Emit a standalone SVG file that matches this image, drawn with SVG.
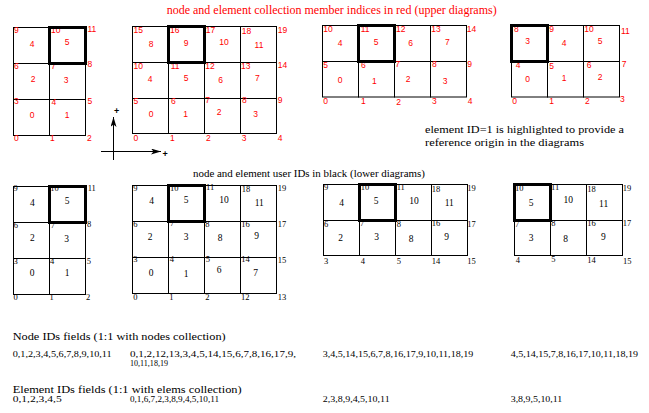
<svg xmlns="http://www.w3.org/2000/svg" width="649" height="413" viewBox="0 0 649 413">
<style>
.c{fill:none;stroke:#000;stroke-width:1}
.k{fill:none;stroke:#000;stroke-width:3}
.rn{font-family:"Liberation Sans",Arial,sans-serif;font-size:8.5px;fill:#f00}
.re{font-family:"Liberation Sans",Arial,sans-serif;font-size:8.5px;fill:#f00;text-anchor:middle}
.bn{font-family:"Liberation Serif","Times New Roman",serif;font-size:8.5px;fill:#000}
.be{font-family:"Liberation Serif","Times New Roman",serif;font-size:9.5px;fill:#000;text-anchor:middle}
.t{font-family:"Liberation Serif","Times New Roman",serif;font-size:11px;fill:#000}
.f{font-family:"Liberation Serif","Times New Roman",serif;font-size:8.5px;fill:#000}
.ax{stroke:#000;stroke-width:1}
.pl{font-family:"Liberation Sans",Arial,sans-serif;font-size:9px;font-weight:bold;fill:#000}
</style>
<defs>
<marker id="ah" viewBox="0 0 10 6" refX="10" refY="3" markerWidth="10" markerHeight="6" orient="auto" markerUnits="userSpaceOnUse"><path d="M0,0 L10,3 L0,6 L2.5,3 z" fill="#000"/></marker>
</defs>
<rect width="649" height="413" fill="#fff"/>

<text class="t" x="166.7" y="13.5" style="fill:#f00;font-size:12px" textLength="330" lengthAdjust="spacingAndGlyphs">node and element collection member indices in red (upper diagrams)</text>

<g id="upper-1">
<rect class="c" x="13.5" y="27.5" width="36" height="36"/><rect class="c" x="49.5" y="27.5" width="36" height="36"/>
<rect class="c" x="13.5" y="63.5" width="36" height="36"/><rect class="c" x="49.5" y="63.5" width="36" height="36"/>
<rect class="c" x="13.5" y="99.5" width="36" height="36"/><rect class="c" x="49.5" y="99.5" width="36" height="36"/>
<text class="rn" x="14" y="33">9</text><text class="rn" x="51" y="33">10</text><text class="rn" x="87.5" y="32">11</text>
<text class="rn" x="14" y="69">6</text><text class="rn" x="51" y="69">7</text><text class="rn" x="87.5" y="67">8</text>
<text class="rn" x="14" y="104">3</text><text class="rn" x="51.5" y="105">4</text><text class="rn" x="87.5" y="103.5">5</text>
<text class="rn" x="14" y="141">0</text><text class="rn" x="50" y="141">1</text><text class="rn" x="87" y="141">2</text>
<text class="re" x="32" y="46.5">4</text><text class="re" x="67" y="45">5</text>
<text class="re" x="33" y="81.5">2</text><text class="re" x="66" y="82.5">3</text>
<text class="re" x="32" y="118">0</text><text class="re" x="67" y="118">1</text>
<rect class="k" x="49.5" y="27.5" width="36" height="36"/>
</g>

<g id="upper-2">
<rect class="c" x="132.5" y="26.5" width="36" height="36"/><rect class="c" x="168.5" y="26.5" width="36" height="36"/><rect class="c" x="204.5" y="26.5" width="36" height="36"/><rect class="c" x="240.5" y="26.5" width="36" height="36"/>
<rect class="c" x="132.5" y="62.5" width="36" height="36"/><rect class="c" x="168.5" y="62.5" width="36" height="36"/><rect class="c" x="204.5" y="62.5" width="36" height="36"/><rect class="c" x="240.5" y="62.5" width="36" height="36"/>
<rect class="c" x="132.5" y="98.5" width="36" height="35"/><rect class="c" x="168.5" y="98.5" width="36" height="35"/><rect class="c" x="204.5" y="98.5" width="36" height="35"/><rect class="c" x="240.5" y="98.5" width="36" height="35"/>
<text class="rn" x="133.5" y="33">15</text><text class="rn" x="170" y="33">16</text><text class="rn" x="205.7" y="33">17</text><text class="rn" x="241.7" y="33.5">18</text><text class="rn" x="277.7" y="32.5">19</text>
<text class="rn" x="133.5" y="68.5">10</text><text class="rn" x="170.7" y="68.5">11</text><text class="rn" x="205.3" y="68.5">12</text><text class="rn" x="241" y="68.5">13</text><text class="rn" x="277.7" y="68">14</text>
<text class="rn" x="133.5" y="104">5</text><text class="rn" x="171" y="104">6</text><text class="rn" x="205.3" y="102.5">7</text><text class="rn" x="242" y="103">8</text><text class="rn" x="277.7" y="103">9</text>
<text class="rn" x="133.5" y="141">0</text><text class="rn" x="170" y="141">1</text><text class="rn" x="206" y="141">2</text><text class="rn" x="241.7" y="141">3</text><text class="rn" x="277.7" y="141">4</text>
<text class="re" x="151" y="47">8</text><text class="re" x="186" y="45.5">9</text><text class="re" x="224" y="45">10</text><text class="re" x="259" y="47.5">11</text>
<text class="re" x="150" y="81.5">4</text><text class="re" x="186" y="81">5</text><text class="re" x="220.7" y="82.5">6</text><text class="re" x="257.3" y="81">7</text>
<text class="re" x="151" y="117.3">0</text><text class="re" x="185.7" y="117.3">1</text><text class="re" x="219" y="115">2</text><text class="re" x="255.7" y="117.3">3</text>
<rect class="k" x="168.5" y="26.5" width="36" height="36"/>
</g>

<g id="upper-3">
<rect class="c" x="322.5" y="25.5" width="36" height="36"/><rect class="c" x="358.5" y="25.5" width="36" height="36"/><rect class="c" x="394.5" y="25.5" width="36" height="36"/><rect class="c" x="430.5" y="25.5" width="36" height="36"/>
<rect class="c" x="322.5" y="61.5" width="36" height="35.5"/><rect class="c" x="358.5" y="61.5" width="36" height="35.5"/><rect class="c" x="394.5" y="61.5" width="36" height="35.5"/><rect class="c" x="430.5" y="61.5" width="36" height="35.5"/>
<text class="rn" x="323.3" y="31.7">10</text><text class="rn" x="360.7" y="31.7">11</text><text class="rn" x="396" y="31.7">12</text><text class="rn" x="431.3" y="31.7">13</text><text class="rn" x="466.7" y="31.7">14</text>
<text class="rn" x="323.3" y="67.7">5</text><text class="rn" x="361" y="68">6</text><text class="rn" x="395.3" y="66.5">7</text><text class="rn" x="432" y="66.5">8</text><text class="rn" x="467.3" y="66.5">9</text>
<text class="rn" x="323.3" y="104">0</text><text class="rn" x="361" y="104">1</text><text class="rn" x="396.3" y="104.5">2</text><text class="rn" x="432" y="103.5">3</text><text class="rn" x="467.7" y="103.5">4</text>
<text class="re" x="340" y="45.7">4</text><text class="re" x="376" y="44.7">5</text><text class="re" x="410.7" y="46">6</text><text class="re" x="447.3" y="44.7">7</text>
<text class="re" x="340" y="83.3">0</text><text class="re" x="374.3" y="84.3">1</text><text class="re" x="408" y="82">2</text><text class="re" x="445" y="83.5">3</text>
<rect class="k" x="358.5" y="25.5" width="36" height="36"/>
</g>

<g id="upper-4">
<rect class="c" x="511.5" y="25.5" width="36" height="36"/><rect class="c" x="547.5" y="25.5" width="36" height="36"/><rect class="c" x="583.5" y="25.5" width="36" height="36"/>
<rect class="c" x="511.5" y="61.5" width="36" height="35.5"/><rect class="c" x="547.5" y="61.5" width="36" height="35.5"/><rect class="c" x="583.5" y="61.5" width="36" height="35.5"/>
<text class="rn" x="514" y="32">8</text><text class="rn" x="549.3" y="32.3">9</text><text class="rn" x="584.3" y="32.3">10</text><text class="rn" x="621" y="34">11</text>
<text class="rn" x="515.7" y="67.7">4</text><text class="rn" x="549.3" y="68.7">5</text><text class="rn" x="586.7" y="67.5">6</text><text class="rn" x="621.7" y="67">7</text>
<text class="rn" x="512.3" y="104">0</text><text class="rn" x="549.3" y="104">1</text><text class="rn" x="585" y="104">2</text><text class="rn" x="620" y="101.5">3</text>
<text class="re" x="527.7" y="44">3</text><text class="re" x="564" y="45.7">4</text><text class="re" x="600" y="44.3">5</text>
<text class="re" x="527.7" y="81.7">0</text><text class="re" x="564" y="81">1</text><text class="re" x="600" y="80">2</text>
<rect class="k" x="511.5" y="25.5" width="36" height="36"/>
</g>

<g id="connectors">
<line class="ax" x1="113.5" y1="160" x2="113.5" y2="117" marker-end="url(#ah)"/>
<line class="ax" x1="101" y1="151.5" x2="161" y2="151.5" marker-end="url(#ah)"/>
</g>
<text class="pl" x="114" y="114">+</text>
<text class="pl" x="162.5" y="157">+</text>

<g id="note">
<text class="t" x="425" y="133" textLength="199" lengthAdjust="spacingAndGlyphs">element ID=1 is highlighted to provide a</text>
<text class="t" x="425" y="146" textLength="159" lengthAdjust="spacingAndGlyphs">reference origin in the diagrams</text>
</g>

<text class="t" x="193" y="176.5" textLength="232" lengthAdjust="spacingAndGlyphs">node and element user IDs in black (lower diagrams)</text>

<g id="lower-1">
<rect class="c" x="13.5" y="186.5" width="36" height="36"/><rect class="c" x="49.5" y="186.5" width="36" height="36"/>
<rect class="c" x="13.5" y="222.5" width="36" height="36"/><rect class="c" x="49.5" y="222.5" width="36" height="36"/>
<rect class="c" x="13.5" y="258.5" width="36" height="36"/><rect class="c" x="49.5" y="258.5" width="36" height="36"/>
<text class="bn" x="13.5" y="191">9</text><text class="bn" x="50.3" y="191">10</text><text class="bn" x="87.7" y="191">11</text>
<text class="bn" x="13.7" y="227.7">6</text><text class="bn" x="50.7" y="227.5">7</text><text class="bn" x="87" y="226.7">8</text>
<text class="bn" x="13.5" y="263.5">3</text><text class="bn" x="50" y="263.5">4</text><text class="bn" x="86.7" y="263.5">5</text>
<text class="bn" x="13.5" y="300">0</text><text class="bn" x="49.5" y="300">1</text><text class="bn" x="86" y="300">2</text>
<text class="be" x="32.3" y="206">4</text><text class="be" x="67" y="204.3">5</text>
<text class="be" x="32.3" y="240.7">2</text><text class="be" x="66.7" y="241.7">3</text>
<text class="be" x="32" y="275.7">0</text><text class="be" x="67" y="275.7">1</text>
<rect class="k" x="49.5" y="186.5" width="36" height="36"/>
</g>

<g id="lower-2">
<rect class="c" x="132.5" y="185.5" width="36" height="36"/><rect class="c" x="168.5" y="185.5" width="36" height="36"/><rect class="c" x="204.5" y="185.5" width="36" height="36"/><rect class="c" x="240.5" y="185.5" width="36" height="36"/>
<rect class="c" x="132.5" y="221.5" width="36" height="36"/><rect class="c" x="168.5" y="221.5" width="36" height="36"/><rect class="c" x="204.5" y="221.5" width="36" height="36"/><rect class="c" x="240.5" y="221.5" width="36" height="36"/>
<rect class="c" x="132.5" y="257.5" width="36" height="36"/><rect class="c" x="168.5" y="257.5" width="36" height="36"/><rect class="c" x="204.5" y="257.5" width="36" height="36"/><rect class="c" x="240.5" y="257.5" width="36" height="36"/>
<text class="bn" x="133.3" y="190.7">9</text><text class="bn" x="170" y="190.5">10</text><text class="bn" x="206" y="190">11</text><text class="bn" x="241.7" y="191.7">18</text><text class="bn" x="277.7" y="190.5">19</text>
<text class="bn" x="133.3" y="226.7">6</text><text class="bn" x="170" y="226">7</text><text class="bn" x="205.3" y="226.7">8</text><text class="bn" x="241.3" y="226.7">16</text><text class="bn" x="277.7" y="226.7">17</text>
<text class="bn" x="133.3" y="262">3</text><text class="bn" x="169.7" y="261.7">4</text><text class="bn" x="205.7" y="261.5">5</text><text class="bn" x="241.3" y="262">14</text><text class="bn" x="277.7" y="263">15</text>
<text class="bn" x="133.3" y="299.5">0</text><text class="bn" x="169.3" y="299.5">1</text><text class="bn" x="205.3" y="299.5">2</text><text class="bn" x="241" y="299.5">12</text><text class="bn" x="277.7" y="299.5">13</text>
<text class="be" x="151.7" y="204.3">4</text><text class="be" x="186" y="202.7">5</text><text class="be" x="224" y="202.7">10</text><text class="be" x="259.3" y="206">11</text>
<text class="be" x="150" y="240">2</text><text class="be" x="186" y="240">3</text><text class="be" x="220" y="241">8</text><text class="be" x="256.7" y="239.3">9</text>
<text class="be" x="151" y="275.7">0</text><text class="be" x="186" y="276.7">1</text><text class="be" x="219" y="273.3">6</text><text class="be" x="255.7" y="275.7">7</text>
<rect class="k" x="168.5" y="185.5" width="36" height="36"/>
</g>

<g id="lower-3">
<rect class="c" x="323.5" y="184.5" width="36" height="36"/><rect class="c" x="359.5" y="184.5" width="36" height="36"/><rect class="c" x="395.5" y="184.5" width="36" height="36"/><rect class="c" x="431.5" y="184.5" width="36" height="36"/>
<rect class="c" x="323.5" y="220.5" width="36" height="35"/><rect class="c" x="359.5" y="220.5" width="36" height="35"/><rect class="c" x="395.5" y="220.5" width="36" height="35"/><rect class="c" x="431.5" y="220.5" width="36" height="35"/>
<text class="bn" x="324" y="190">9</text><text class="bn" x="360.7" y="190">10</text><text class="bn" x="396.7" y="190">11</text><text class="bn" x="431.7" y="191.7">18</text><text class="bn" x="467.3" y="190.5">19</text>
<text class="bn" x="324" y="226.7">6</text><text class="bn" x="360" y="226.3">7</text><text class="bn" x="396.7" y="226.7">8</text><text class="bn" x="431.7" y="226.3">16</text><text class="bn" x="467.3" y="226.7">17</text>
<text class="bn" x="324" y="263.5">3</text><text class="bn" x="360.7" y="263.5">4</text><text class="bn" x="396.7" y="263.5">5</text><text class="bn" x="431.7" y="263.5">14</text><text class="bn" x="467.3" y="263.5">15</text>
<text class="be" x="341.7" y="205.7">4</text><text class="be" x="376" y="204.3">5</text><text class="be" x="414" y="204.3">10</text><text class="be" x="449.3" y="206">11</text>
<text class="be" x="340.7" y="240.7">2</text><text class="be" x="376.7" y="240">3</text><text class="be" x="411" y="241.7">8</text><text class="be" x="446.7" y="240">9</text>
<rect class="k" x="359.5" y="184.5" width="36" height="36"/>
</g>

<g id="lower-4">
<rect class="c" x="514.5" y="184.5" width="36" height="36"/><rect class="c" x="550.5" y="184.5" width="36" height="36"/><rect class="c" x="586.5" y="184.5" width="36" height="36"/>
<rect class="c" x="514.5" y="220.5" width="36" height="35"/><rect class="c" x="550.5" y="220.5" width="36" height="35"/><rect class="c" x="586.5" y="220.5" width="36" height="35"/>
<text class="bn" x="515" y="191">10</text><text class="bn" x="551" y="190">11</text><text class="bn" x="587.3" y="191.7">18</text><text class="bn" x="622.7" y="190.5">19</text>
<text class="bn" x="515" y="226.7">7</text><text class="bn" x="551.3" y="226.3">8</text><text class="bn" x="587.3" y="226.3">16</text><text class="bn" x="622.7" y="226">17</text>
<text class="bn" x="515.7" y="262.5">4</text><text class="bn" x="551.3" y="262">5</text><text class="bn" x="587.3" y="263">14</text><text class="bn" x="623" y="263.5">15</text>
<text class="be" x="531" y="205.7">5</text><text class="be" x="568.3" y="203.3">10</text><text class="be" x="603.7" y="206.7">11</text>
<text class="be" x="531" y="240.7">3</text><text class="be" x="565.7" y="241.7">8</text><text class="be" x="603.3" y="240">9</text>
<rect class="k" x="514.5" y="184.5" width="36" height="36"/>
</g>

<g id="fields">
<text class="t" x="12.7" y="339.5" textLength="213" lengthAdjust="spacingAndGlyphs">Node IDs fields (1:1 with nodes collection)</text>
<text class="f" x="12.7" y="357.3" textLength="99" lengthAdjust="spacingAndGlyphs">0,1,2,3,4,5,6,7,8,9,10,11</text>
<text class="f" x="130" y="357" textLength="166" lengthAdjust="spacingAndGlyphs">0,1,2,12,13,3,4,5,14,15,6,7,8,16,17,9,</text>
<text class="f" x="130" y="366" textLength="38" lengthAdjust="spacingAndGlyphs">10,11,18,19</text>
<text class="f" x="322.7" y="357.3" textLength="150.6" lengthAdjust="spacingAndGlyphs">3,4,5,14,15,6,7,8,16,17,9,10,11,18,19</text>
<text class="f" x="510.7" y="357.3" textLength="127.3" lengthAdjust="spacingAndGlyphs">4,5,14,15,7,8,16,17,10,11,18,19</text>
<text class="t" x="12.7" y="393" textLength="229" lengthAdjust="spacingAndGlyphs">Element IDs fields (1:1 with elems collection)</text>
<text class="f" x="12.7" y="401.7" textLength="49" lengthAdjust="spacingAndGlyphs">0,1,2,3,4,5</text>
<text class="f" x="130" y="401.7" textLength="89" lengthAdjust="spacingAndGlyphs">0,1,6,7,2,3,8,9,4,5,10,11</text>
<text class="f" x="322.7" y="401.7" textLength="67" lengthAdjust="spacingAndGlyphs">2,3,8,9,4,5,10,11</text>
<text class="f" x="510.7" y="401.7" textLength="51.6" lengthAdjust="spacingAndGlyphs">3,8,9,5,10,11</text>
</g>
</svg>
